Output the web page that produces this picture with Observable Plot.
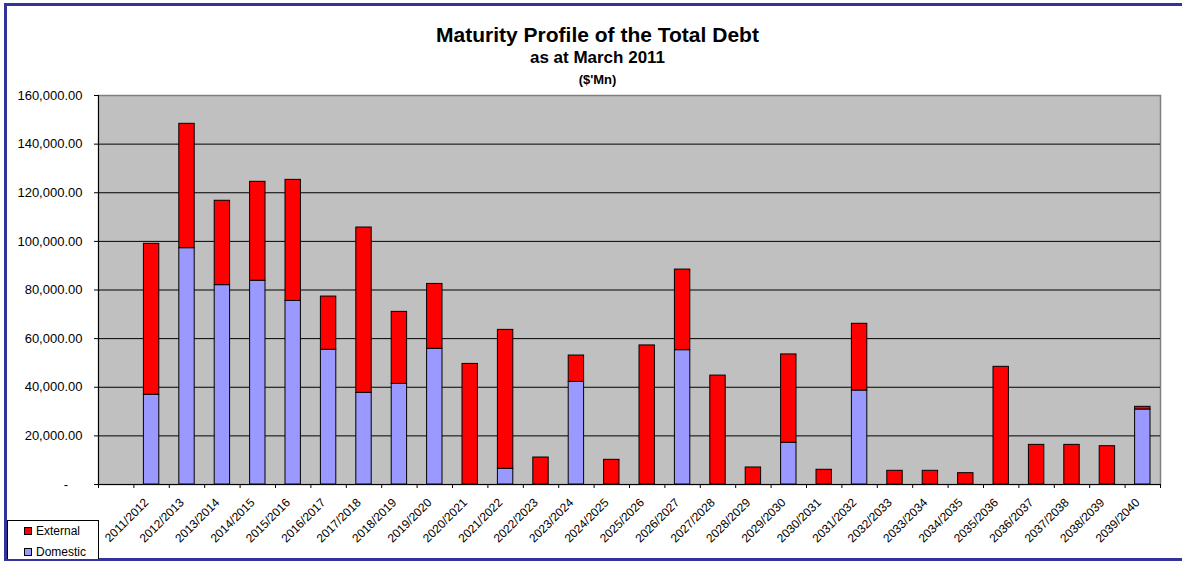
<!DOCTYPE html>
<html>
<head>
<meta charset="utf-8">
<script src="https://cdn.jsdelivr.net/npm/d3@7"></script>
<script src="https://cdn.jsdelivr.net/npm/@observablehq/plot@0.6"></script>
<style>
  html, body { margin: 0; padding: 0; background: #fff; overflow: hidden; }
  body { font-family: "Liberation Sans", Arial, sans-serif; }
  #wrap { position: relative; width: 1182px; height: 565px; overflow: hidden; }
  #chart { position: absolute; left: 0; top: 0; }
  #frame { position: absolute; left: 4px; top: 3px; width: 1200px; height: 552px; border: 3px solid #333399; pointer-events: none; }
  .t { position: absolute; left: 0; width: 1195px; text-align: center; font-weight: bold; color: #000; white-space: nowrap; }
  #t1 { top: 24px; font-size: 21px; line-height: 21px; }
  #t2 { top: 49px; font-size: 17px; line-height: 17px; }
  #t3 { top: 73px; font-size: 13px; line-height: 13px; }
  #legend { position: absolute; left: 7px; top: 520px; width: 90px; height: 38px; border: 1px solid #000; border-bottom: none; background: #fff; font-size: 12px; color: #000; }
  .sw { position: absolute; left: 16px; width: 6px; height: 6px; border: 1px solid #000; }
  .lt { position: absolute; left: 28px; line-height: 12px; }
</style>
</head>
<body>
<div id="wrap">
  <div id="chart"></div>
  <div id="frame"></div>
  <div class="t" id="t1">Maturity Profile of the Total Debt</div>
  <div class="t" id="t2">as at March 2011</div>
  <div class="t" id="t3">($'Mn)</div>
  <div id="legend">
    <div class="sw" style="top:6px;background:#ff0000"></div><div class="lt" style="top:4px">External</div>
    <div class="sw" style="top:27px;background:#9999ff"></div><div class="lt" style="top:25px">Domestic</div>
  </div>
</div>
<script>
const years = ["2011/2012","2012/2013","2013/2014","2014/2015","2015/2016","2016/2017","2017/2018","2018/2019","2019/2020","2020/2021",
  "2021/2022","2022/2023","2023/2024","2024/2025","2025/2026","2026/2027","2027/2028","2028/2029","2029/2030","2030/2031",
  "2031/2032","2032/2033","2033/2034","2034/2035","2035/2036","2036/2037","2037/2038","2038/2039","2039/2040"];
const domestic = [36900, 97200, 82000, 83800, 75500, 55400, 37700, 41400, 55800, 0,
  6450, 0, 42200, 0, 0, 55250, 0, 0, 17150, 0,
  38650, 0, 0, 0, 0, 0, 0, 0, 30850];
const external = [62100, 51150, 34700, 40700, 49800, 21900, 68000, 29600, 26700, 49600,
  57150, 11100, 10850, 10150, 57200, 33150, 44800, 7000, 36350, 6050,
  27450, 5630, 5630, 4660, 48400, 16300, 16300, 15760, 1100];
const yTicks = [0, 20000, 40000, 60000, 80000, 100000, 120000, 140000, 160000];
const seriesNames = ["Domestic", "External"];
const seriesColors = ["#9999ff", "#ff0000"];

// slot 0 is an empty leading category; years occupy slots 1..29
const rows = [];
years.forEach((yr, i) => {
  const slot = i + 1;
  if (domestic[i] > 0) rows.push({slot, type: "Domestic", y1: 0, y2: domestic[i]});
  if (external[i] > 0) rows.push({slot, type: "External", y1: domestic[i], y2: domestic[i] + external[i]});
});

const fmt = d3.format(",.2f");
const chart = Plot.plot({
  width: 1182,
  height: 565,
  marginLeft: 98,
  marginRight: 22,
  marginTop: 95,
  marginBottom: 81,
  style: {background: "transparent", fontFamily: "'Liberation Sans', Arial, sans-serif", fontSize: "12px", color: "#000"},
  x: {type: "linear", domain: [0, years.length + 1], label: null},
  y: {domain: [0, 160000], label: null},
  color: {domain: seriesNames, range: seriesColors},
  marks: [
    Plot.frame({fill: "#c0c0c0", stroke: "#808080", strokeWidth: 1.5}),
    Plot.gridY(yTicks.filter(d => d > 0 && d < 160000), {stroke: "#000", strokeOpacity: 1, strokeWidth: 1}),
    Plot.rect(rows, {x1: "slot", x2: d => d.slot + 1, y1: "y1", y2: "y2", fill: "type", stroke: "#000", strokeWidth: 1, insetLeft: 10, insetRight: 10}),
    Plot.ruleX([0], {stroke: "#000"}),
    Plot.ruleY([0], {stroke: "#000"}),
    Plot.axisY({ticks: yTicks, tickSize: 4, tickPadding: 12, fontSize: 13, label: null,
      tickFormat: d => d === 0 ? "-    " : fmt(d)}),
    Plot.axisX({ticks: d3.range(0, years.length + 2), tickSize: 4, tickFormat: () => "", label: null}),
    Plot.axisX({ticks: years.map((_, i) => i + 1.5), tickSize: 0, tickPadding: 16, dx: -5, tickRotate: -45, fontSize: 12, label: null,
      tickFormat: v => years[Math.round(v - 1.5)]})
  ]
});
document.getElementById("chart").appendChild(chart);
</script>
</body>
</html>
